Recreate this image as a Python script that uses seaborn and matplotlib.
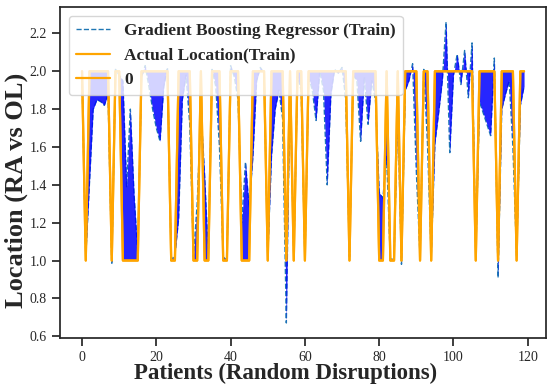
import numpy as np
import pandas as pd
import seaborn as sns
import matplotlib.pyplot as plt

# Patients index and location values (1 = RA, 2 = OL)
patients = list(range(120))

actual_location = [
    2, 1, 2, 2, 2, 2, 2, 2, 1, 2,
    2, 1, 1, 1, 1, 1, 2, 2, 2, 2,
    2, 2, 2, 2, 1, 1, 2, 2, 2, 2,
    1, 1, 2, 1, 1, 2, 2, 2, 1, 1,
    2, 2, 2, 1, 1, 1, 2, 2, 2, 2,
    1, 2, 2, 2, 2, 1, 2, 1, 2, 2,
    1, 2, 2, 2, 2, 2, 2, 2, 2, 2,
    2, 2, 1, 2, 2, 2, 2, 2, 2, 2,
    1, 1, 2, 1, 1, 2, 1, 2, 2, 2,
    2, 1, 2, 2, 1, 2, 2, 2, 2, 2,
    2, 2, 2, 2, 2, 2, 1, 2, 2, 2,
    2, 2, 1, 2, 2, 2, 2, 1, 2, 2,
]

gbr_predicted = [
    1.97, 1.02, 1.41, 1.80, 1.85, 1.84, 1.82, 1.88, 0.98, 2.01,
    1.98, 1.95, 1.39, 1.80, 1.35, 1.04, 1.97, 2.03, 1.92, 1.80,
    1.70, 1.63, 1.92, 2.02, 1.00, 1.03, 1.22, 1.85, 1.98, 1.72,
    1.02, 1.30, 1.80, 1.45, 1.03, 2.01, 1.92, 1.60, 1.02, 1.00,
    2.03, 1.97, 1.85, 1.20, 1.52, 1.28, 1.55, 1.95, 2.02, 1.99,
    1.02, 1.55, 1.80, 1.90, 1.75, 0.67, 1.95, 1.02, 1.97, 1.90,
    1.01, 1.97, 1.90, 1.74, 2.00, 1.90, 1.40, 1.88, 2.01, 1.99,
    2.02, 1.85, 1.02, 1.98, 1.95, 1.63, 1.97, 1.72, 1.95, 1.85,
    1.36, 1.33, 1.55, 1.00, 1.02, 1.80, 0.98, 1.90, 1.95, 2.04,
    1.47, 1.02, 2.01, 1.62, 1.02, 1.62, 1.78, 1.95, 2.26, 1.57,
    1.98, 2.09, 1.93, 2.11, 1.86, 2.15, 1.02, 1.84, 1.78, 1.72,
    1.66, 2.07, 0.91, 1.80, 1.88, 1.95, 1.60, 1.02, 1.82, 1.92,
]

df = pd.DataFrame({
    "patient": patients,
    "actual": actual_location,
    "predicted": gbr_predicted,
})

sns.set_theme(style="ticks")
plt.rcParams["font.family"] = ["Liberation Serif", "DejaVu Serif"]

fig, ax = plt.subplots(figsize=(5.5, 3.91), dpi=100)
fig.subplots_adjust(left=0.109, right=0.993, bottom=0.1355, top=0.982)

# predicted line sits under the fill, actual lines on top
sns.lineplot(data=df, x="patient", y="predicted", ax=ax, color="#1f77b4",
             linestyle="--", linewidth=1.0, zorder=2,
             label="Gradient Boosting Regressor (Train)")
ax.fill_between(df["patient"], df["actual"], df["predicted"],
                color="blue", alpha=0.85, linewidth=0, zorder=2.5)
sns.lineplot(data=df, x="patient", y="actual", ax=ax, color="orange",
             linewidth=1.6, zorder=3, label="Actual Location(Train)")
sns.lineplot(data=df, x="patient", y="actual", ax=ax, color="orange",
             linewidth=1.6, zorder=3, label="0")

ax.set_xlabel("Patients (Random Disruptions)", fontsize=16.5, fontweight="bold")
ax.set_ylabel("Location (RA vs OL)", fontsize=19, fontweight="bold")
ax.xaxis.set_label_coords(0.465, -0.075)
ax.yaxis.set_label_coords(-0.066, 0.447)
ax.set_xticks([0, 20, 40, 60, 80, 100, 120])
ax.set_yticks([0.6, 0.8, 1.0, 1.2, 1.4, 1.6, 1.8, 2.0, 2.2])
ax.tick_params(labelsize=10)
ax.legend(loc="upper left", prop={"weight": "bold", "size": 12.5},
          framealpha=0.8, edgecolor="0.8", fancybox=True)

plt.savefig("out.png", dpi=100)
